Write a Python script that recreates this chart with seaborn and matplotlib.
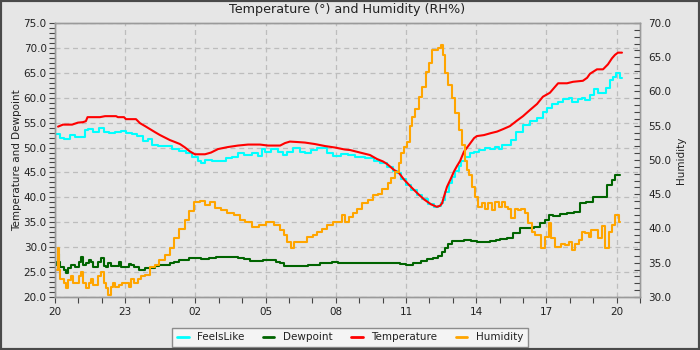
import matplotlib
matplotlib.use("Agg")
import matplotlib.pyplot as plt
from matplotlib.ticker import MultipleLocator, FuncFormatter, FormatStrFormatter
from matplotlib.patches import Rectangle
import seaborn as sns

# ---- readings (hours after 20:00) ----
temp_hours = [0.13, 0.34, 0.73, 0.98, 1.20, 1.32, 1.39, 1.92, 2.14, 2.61,
              2.69, 2.95, 3.03, 3.46, 3.63, 3.85, 4.06, 4.27, 4.49, 4.70,
              4.91, 5.13, 5.34, 5.56, 5.77, 5.98, 6.41, 6.67, 6.97, 7.39,
              7.82, 8.25, 8.76, 9.10, 9.62, 9.83, 10.04, 10.38, 10.68, 11.11,
              11.54, 11.97, 12.39, 12.61, 13.03, 13.46, 13.76, 14.02, 14.19, 14.49,
              14.70, 14.91, 15.13, 15.34, 15.56, 15.77, 16.07, 16.32, 16.45, 16.54,
              16.62, 16.75, 16.92, 17.05, 17.18, 17.31, 17.48, 17.69, 17.91, 18.03,
              18.33, 18.63, 18.89, 19.15, 19.44, 19.74, 20.00, 20.30, 20.60, 20.85,
              21.15, 21.37, 21.50, 21.88, 22.14, 22.56, 22.74, 22.86, 23.16, 23.42,
              23.63, 23.80, 23.93, 24.06, 24.23]
temperature = [54.2, 54.6, 54.6, 55.0, 55.1, 55.3, 56.1, 56.1, 56.3, 56.3,
               56.1, 56.1, 55.7, 55.7, 54.9, 54.3, 53.7, 53.1, 52.5, 52.0,
               51.5, 51.1, 50.7, 50.0, 49.2, 48.65, 48.65, 49.0, 49.7, 50.1,
               50.4, 50.6, 50.6, 50.4, 50.4, 50.9, 51.2, 51.1, 51.0, 50.7,
               50.3, 50.0, 49.6, 49.5, 49.0, 48.5, 47.7, 47.2, 46.7, 45.5,
               44.9, 43.6, 42.5, 41.5, 40.5, 39.6, 38.6, 38.1, 38.3, 38.8,
               40.1, 42.1, 43.8, 45.2, 46.3, 47.3, 49.2, 50.5, 51.9, 52.3,
               52.5, 52.9, 53.2, 53.7, 54.3, 55.4, 56.3, 57.55, 58.75, 60.2,
               61.0, 62.2, 62.9, 62.9, 63.2, 63.4, 64.0, 64.8, 65.7, 65.7,
               66.7, 67.9, 68.6, 69.05, 69.05]

feels_hours = [0.04, 0.17, 0.30, 0.51, 0.73, 0.98, 1.24, 1.30, 1.50, 1.71,
               2.01, 2.14, 2.44, 2.69, 2.95, 3.16, 3.42, 3.63, 3.85, 4.06,
               4.27, 4.57, 4.87, 5.13, 5.43, 5.73, 5.98, 6.20, 6.28, 6.54,
               6.84, 7.14, 7.48, 7.69, 7.91, 8.25, 8.55, 8.76, 8.89, 9.10,
               9.40, 9.62, 9.83, 10.04, 10.34, 10.56, 10.81, 11.11, 11.32, 11.54,
               11.75, 12.05, 12.39, 12.61, 13.03, 13.46, 13.80, 14.02, 14.32, 14.53,
               14.70, 14.91, 15.13, 15.34, 15.56, 15.77, 16.07, 16.32, 16.45, 16.54,
               16.62, 16.75, 16.92, 17.05, 17.18, 17.31, 17.39, 17.61, 17.82, 18.03,
               18.25, 18.46, 18.68, 18.89, 19.02, 19.15, 19.44, 19.57, 19.87, 20.17,
               20.43, 20.73, 20.94, 21.15, 21.37, 21.58, 21.88, 22.01, 22.22, 22.44,
               22.56, 22.74, 22.95, 23.16, 23.29, 23.50, 23.63, 23.80, 23.93, 24.06,
               24.23]
feels_like = [52.7, 52.7, 52.0, 51.7, 52.5, 52.2, 52.2, 53.5, 53.7, 53.2,
              53.9, 53.2, 52.9, 53.1, 53.4, 53.0, 52.7, 52.3, 51.4, 51.7,
              50.5, 50.4, 50.3, 49.7, 49.4, 48.85, 48.05, 47.2, 46.85, 47.5,
              47.3, 47.3, 47.85, 48.2, 48.85, 48.5, 49.0, 48.3, 49.7, 49.2,
              49.7, 49.2, 48.5, 49.2, 49.85, 49.2, 49.0, 49.5, 50.0, 50.0,
              49.0, 48.3, 48.65, 48.5, 48.2, 47.85, 47.3, 46.8, 46.1, 45.3,
              44.9, 43.6, 42.5, 41.5, 40.5, 39.6, 38.6, 38.1, 38.3, 38.8,
              39.5, 41.0, 42.8, 44.0, 45.3, 46.3, 47.2, 48.2, 48.85, 49.2,
              49.5, 50.0, 49.7, 50.06, 49.7, 50.5, 50.5, 51.5, 53.2, 54.5,
              55.4, 55.9, 57.2, 57.9, 58.75, 59.2, 59.8, 59.9, 59.2, 59.7,
              59.9, 59.6, 60.6, 61.7, 60.9, 60.9, 62.0, 63.6, 64.2, 64.9,
              63.9]

dew_hours = [0.00, 0.09, 0.13, 0.17, 0.30, 0.43, 0.51, 0.64, 0.73, 0.94,
             1.07, 1.15, 1.24, 1.37, 1.50, 1.58, 1.71, 1.79, 1.92, 2.01,
             2.14, 2.22, 2.35, 2.44, 2.65, 2.78, 2.86, 3.08, 3.21, 3.29,
             3.50, 3.72, 3.93, 4.15, 4.36, 4.57, 4.79, 5.00, 5.21, 5.43,
             5.64, 5.85, 6.07, 6.41, 6.71, 7.05, 7.39, 7.69, 7.91, 8.21,
             8.46, 8.76, 9.02, 9.32, 9.53, 9.70, 9.91, 10.13, 10.38, 10.68,
             10.98, 11.24, 11.45, 11.67, 11.97, 12.26, 12.48, 12.61, 12.91, 13.21,
             13.46, 13.76, 14.06, 14.32, 14.62, 14.87, 15.17, 15.47, 15.77, 16.03,
             16.32, 16.45, 16.62, 16.75, 16.88, 17.05, 17.31, 17.61, 17.91, 18.16,
             18.46, 18.76, 18.89, 19.15, 19.44, 19.74, 20.00, 20.30, 20.60, 20.85,
             21.03, 21.15, 21.45, 21.71, 22.01, 22.31, 22.56, 22.86, 23.16, 23.29,
             23.50, 23.72, 23.85, 24.02, 24.15]
dewpoint = [27.1, 26.5, 28.6, 27.0, 26.1, 25.5, 24.75, 25.8, 26.4, 26.1,
            27.0, 28.1, 26.5, 26.8, 27.5, 27.1, 26.0, 26.1, 27.0, 27.8,
            26.3, 26.1, 26.8, 26.3, 26.3, 27.0, 26.1, 26.1, 26.6, 26.4,
            26.1, 25.4, 25.9, 25.8, 26.3, 26.4, 26.5, 26.8, 27.1, 27.4,
            27.5, 27.8, 27.8, 27.6, 27.8, 28.0, 28.0, 28.0, 27.8, 27.6,
            27.2, 27.2, 27.4, 27.4, 27.1, 26.8, 26.3, 26.3, 26.3, 26.3,
            26.4, 26.4, 26.8, 26.8, 27.1, 26.9, 26.8, 26.9, 26.9, 26.9,
            26.8, 26.9, 26.8, 26.8, 26.9, 26.6, 26.4, 26.8, 27.2, 27.6,
            27.8, 28.2, 29.1, 29.8, 30.6, 31.2, 31.3, 31.4, 31.2, 31.1,
            31.1, 31.2, 31.4, 31.6, 31.9, 32.8, 33.9, 33.8, 34.1, 34.8,
            35.5, 36.5, 36.3, 36.6, 36.8, 37.1, 38.8, 39.1, 40.1, 40.0,
            40.0, 42.5, 43.5, 44.5, 44.5]

hum_hours = [0.09, 0.13, 0.17, 0.30, 0.43, 0.51, 0.64, 0.73, 0.85, 0.94,
             1.07, 1.15, 1.28, 1.37, 1.50, 1.58, 1.71, 1.79, 1.92, 2.01,
             2.14, 2.22, 2.35, 2.44, 2.52, 2.65, 2.78, 2.95, 3.08, 3.21,
             3.29, 3.42, 3.50, 3.63, 3.72, 3.93, 4.15, 4.36, 4.57, 4.79,
             5.00, 5.21, 5.43, 5.64, 5.85, 6.07, 6.32, 6.54, 6.71, 6.97,
             7.26, 7.48, 7.82, 8.03, 8.25, 8.55, 8.85, 9.19, 9.49, 9.70,
             9.83, 10.04, 10.17, 10.30, 10.68, 10.90, 11.11, 11.32, 11.54, 11.75,
             11.97, 12.18, 12.31, 12.48, 12.61, 12.82, 13.03, 13.25, 13.46, 13.68,
             13.89, 14.10, 14.32, 14.44, 14.62, 14.74, 14.83, 14.96, 15.09, 15.21,
             15.34, 15.47, 15.60, 15.77, 15.90, 16.03, 16.15, 16.32, 16.45, 16.54,
             16.62, 16.75, 16.88, 17.05, 17.18, 17.31, 17.44, 17.56, 17.65, 17.74,
             17.86, 18.03, 18.16, 18.33, 18.46, 18.59, 18.72, 18.89, 19.02, 19.15,
             19.32, 19.44, 19.57, 19.74, 19.87, 20.00, 20.17, 20.30, 20.43, 20.60,
             20.73, 20.85, 21.03, 21.15, 21.28, 21.45, 21.58, 21.71, 21.88, 22.01,
             22.14, 22.31, 22.44, 22.56, 22.74, 22.86, 22.99, 23.16, 23.29, 23.42,
             23.59, 23.72, 23.85, 24.02, 24.15]
humidity = [34.0, 37.1, 33.9, 32.7, 32.0, 31.3, 32.5, 33.0, 32.0, 32.0,
            33.0, 33.7, 32.0, 31.3, 32.0, 32.7, 31.7, 31.75, 33.0, 33.7,
            32.0, 31.3, 30.3, 31.5, 32.0, 31.5, 31.75, 32.0, 32.0, 31.5,
            32.7, 32.0, 32.0, 32.7, 33.0, 33.2, 34.4, 34.7, 35.4, 36.1,
            37.1, 38.6, 40.0, 41.2, 42.5, 43.9, 44.0, 43.4, 43.9, 43.0,
            42.7, 42.2, 42.0, 41.2, 41.0, 40.2, 40.5, 41.0, 40.5, 39.8,
            39.05, 38.1, 37.1, 38.1, 38.1, 38.8, 39.05, 39.5, 40.0, 40.5,
            41.0, 41.0, 42.0, 41.0, 41.7, 42.2, 42.9, 43.7, 44.2, 44.9,
            45.1, 45.7, 46.6, 47.3, 48.3, 49.5, 51.0, 51.9, 52.7, 54.9,
            56.3, 57.5, 59.2, 60.7, 62.9, 64.1, 66.0, 66.0, 66.3, 66.8,
            65.3, 62.7, 60.9, 59.0, 56.8, 54.4, 52.2, 49.9, 48.5, 47.8,
            46.1, 44.6, 43.2, 43.7, 42.9, 43.7, 42.7, 43.9, 43.2, 43.9,
            43.2, 42.9, 41.5, 42.9, 42.7, 42.9, 42.2, 40.75, 39.5, 39.05,
            39.05, 37.1, 38.8, 40.75, 38.6, 37.35, 37.25, 37.8, 37.6, 38.1,
            36.9, 37.8, 38.3, 39.5, 39.3, 38.8, 39.8, 39.8, 38.6, 40.3,
            37.1, 39.5, 40.5, 42.0, 41.0]

series_names = ["FeelsLike", "Dewpoint", "Temperature", "Humidity"]
series_colors = ["#00ffff", "#006400", "#ff0000", "#ffa500"]
start_hour = 20

# ---- style ----
sns.set_theme(style="whitegrid")
plt.rcParams["font.family"] = ["DejaVu Sans"]
BG = "#e6e6e6"
TXT = "#222222"
SPINE = "#9a9a9a"

fig = plt.figure(figsize=(7, 3.5), dpi=100, facecolor=BG)
ax = fig.add_axes([55 / 700, 53 / 350, 585 / 700, 274 / 350])
ax.set_facecolor(BG)
ax2 = ax.twinx()
ax2.set_facecolor("none")

lw = 1.5
sns.lineplot(x=feels_hours, y=feels_like, ax=ax, color=series_colors[0],
             linewidth=lw, drawstyle="steps-mid", label=series_names[0])
sns.lineplot(x=dew_hours, y=dewpoint, ax=ax, color=series_colors[1],
             linewidth=lw, drawstyle="steps-mid", label=series_names[1])
sns.lineplot(x=temp_hours, y=temperature, ax=ax, color=series_colors[2],
             linewidth=lw, label=series_names[2])
sns.lineplot(x=hum_hours, y=humidity, ax=ax2, color=series_colors[3],
             linewidth=lw, drawstyle="steps-mid", label=series_names[3])
for a in (ax, ax2):
    if a.get_legend() is not None:
        a.get_legend().remove()

# ---- axes ----
ax.set_xlim(0, 25)
ax.set_ylim(20, 75)
ax2.set_ylim(30, 70)

ax.xaxis.set_major_locator(MultipleLocator(3))
ax.xaxis.set_minor_locator(MultipleLocator(1))
ax.xaxis.set_major_formatter(
    FuncFormatter(lambda v, p: f"{int(round(start_hour + v)) % 24:02d}"))
ax.yaxis.set_major_locator(MultipleLocator(5))
ax.yaxis.set_minor_locator(MultipleLocator(1))
ax.yaxis.set_major_formatter(FormatStrFormatter("%.1f"))
ax2.yaxis.set_major_locator(MultipleLocator(5))
ax2.yaxis.set_minor_locator(MultipleLocator(1))
ax2.yaxis.set_major_formatter(FormatStrFormatter("%.1f"))

ax.grid(True, which="major", color="#bdbdbd", linestyle=(0, (4, 3)), linewidth=0.9)
ax.grid(False, which="minor")
ax2.grid(False)

for a in (ax, ax2):
    for s in a.spines.values():
        s.set_color(SPINE)
        s.set_linewidth(1.0)

tick_kw = dict(labelsize=7.5, labelcolor=TXT, color="#444444", width=0.8)
ax.tick_params(axis="x", which="both", direction="out", length=4, pad=3,
               bottom=True, **tick_kw)
ax.tick_params(axis="y", which="both", direction="out", length=4, pad=2,
               left=True, **tick_kw)
ax2.tick_params(axis="y", which="both", direction="in", length=4, pad=6,
                right=True, **tick_kw)

ax.set_xlabel("")
ax.set_ylabel("Temperature and Dewpoint", fontsize=7.5, color=TXT)
ax.yaxis.set_label_coords(-0.057, 0.5)
ax2.set_ylabel("Humidity", fontsize=7.5, color=TXT)
ax2.yaxis.set_label_coords(1.062, 0.5)

fig.text(347.5 / 700, 1 - 10 / 350, "Temperature (\u00b0) and Humidity (RH%)",
         ha="center", va="center", fontsize=9.2, color=TXT)

handles = ax.get_lines()[:3] + ax2.get_lines()[:1]
leg = fig.legend(handles, series_names, loc="lower center",
                 bbox_to_anchor=(350 / 700, 3 / 350), ncol=4, fontsize=7.5,
                 frameon=True, fancybox=False, framealpha=1,
                 facecolor="#f4f4f4", edgecolor="#8c8c8c",
                 handlelength=1.1, handletextpad=0.8, columnspacing=1.8,
                 borderpad=0.45, borderaxespad=0)
for t in leg.get_texts():
    t.set_color(TXT)
for l in leg.get_lines():
    l.set_linewidth(2.0)
leg.get_frame().set_linewidth(1.0)

fig.patches.append(Rectangle((0, 0), 1, 1, transform=fig.transFigure,
                             fill=False, edgecolor="#4a4a4a", linewidth=3.0,
                             zorder=10))

fig.savefig("out.png", dpi=100, facecolor=BG)
